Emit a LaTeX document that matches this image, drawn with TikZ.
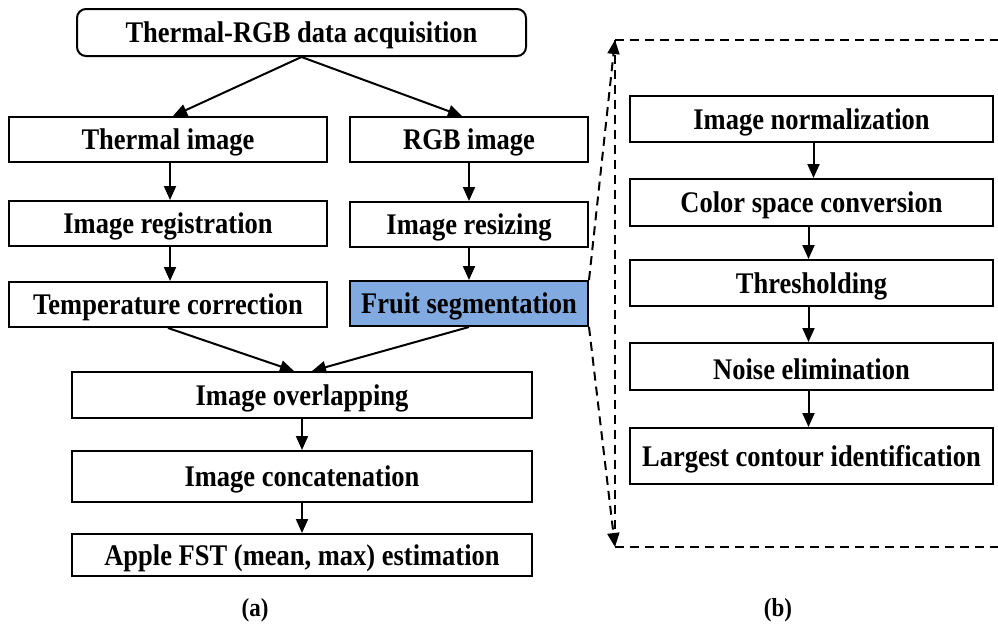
\documentclass[tikz,border=0pt]{standalone}
\usepackage{fontspec}
\usepackage{graphicx}
\setmainfont{Liberation Serif}
\usetikzlibrary{arrows.meta}
\definecolor{segblue}{RGB}{128,170,224}
\newcommand{\vstr}[1]{\raisebox{-3pt}[\height][\depth]{\scalebox{1}[1.13]{#1}}}
\begin{document}
\begin{tikzpicture}[x=1pt,y=-1pt,
  box/.style={draw,line width=2pt,inner sep=0pt,font=\fontsize{26.5}{30}\selectfont\bfseries},
  lab/.style={inner sep=0pt,font=\fontsize{23}{26}\selectfont\bfseries},
  arr/.style={line width=2pt,-{Triangle[length=14pt,width=12pt]}},
  darr/.style={line width=2pt,dash pattern=on 9pt off 6pt,-{Triangle[length=14pt,width=12pt]}},
  dline/.style={line width=2pt,dash pattern=on 9pt off 6pt}]
\useasboundingbox (0,0) rectangle (998,624);
\fill[white] (0,0) rectangle (998,624);
% left part
\node[box,rounded corners=9pt,minimum width=449pt,minimum height=47pt] (top) at (301.5,32.5) {\vstr{Thermal-RGB data acquisition}};
\node[box,minimum width=318pt,minimum height=45pt] (therm) at (168,139.5) {\vstr{Thermal image}};
\node[box,minimum width=318pt,minimum height=45pt] (reg) at (168,223.5) {\vstr{Image registration}};
\node[box,minimum width=318pt,minimum height=45pt] (temp) at (168,304.5) {\vstr{Temperature correction}};
\node[box,minimum width=238pt,minimum height=45pt] (rgb) at (469,139.5) {\vstr{RGB image}};
\node[box,minimum width=238pt,minimum height=45pt] (resz) at (469,224.5) {\vstr{Image resizing}};
\node[box,fill=segblue,minimum width=238pt,minimum height=45pt] (fruit) at (469,303.5) {\vstr{Fruit segmentation}};
\node[box,minimum width=460pt,minimum height=46pt] (over) at (302,395) {\vstr{Image overlapping}};
\node[box,minimum width=460pt,minimum height=51pt] (conc) at (302,476.5) {\vstr{Image concatenation}};
\node[box,minimum width=460pt,minimum height=42pt] (apple) at (302,555) {\vstr{Apple FST (mean, max) estimation}};
% right part
\node[box,minimum width=363pt,minimum height=46pt] (norm) at (811.5,119) {\vstr{Image normalization}};
\node[box,minimum width=363pt,minimum height=47pt] (color) at (811.5,202.5) {\vstr{Color space conversion}};
\node[box,minimum width=363pt,minimum height=46pt] (thr) at (811.5,283) {\vstr{Thresholding}};
\node[box,minimum width=363pt,minimum height=47pt] (noise) at (811.5,366.5) {\vstr{Noise elimination}};
\node[box,minimum width=363pt,minimum height=56pt] (large) at (811.5,456) {\vstr{Largest contour identification}};
% labels
\node[lab] (la) at (255,607) {\vstr{(a)}};
\node[lab] (lb) at (778,607) {\vstr{(b)}};
% arrows left
\draw[arr] (top.south) -- ([xshift=5pt]therm.north);
\draw[arr] (top.south) -- ([xshift=-7pt]rgb.north);
\draw[arr] ([xshift=2pt]therm.south) -- ([xshift=2pt]reg.north);
\draw[arr] ([xshift=2pt]reg.south) -- ([xshift=2pt]temp.north);
\draw[arr] (rgb.south) -- (resz.north);
\draw[arr] (resz.south) -- (fruit.north);
\draw[arr] (temp.south) -- ([xshift=-8pt]over.north);
\draw[arr] (fruit.south) -- ([xshift=10pt]over.north);
\draw[arr] (over.south) -- (conc.north);
\draw[arr] (conc.south) -- (apple.north);
% arrows right
\draw[arr] ([xshift=2pt]norm.south) -- ([xshift=2pt]color.north);
\draw[arr] ([xshift=-3pt]color.south) -- ([xshift=-3pt]thr.north);
\draw[arr] ([xshift=-3pt]thr.south) -- ([xshift=-3pt]noise.north);
\draw[arr] ([xshift=-3pt]noise.south) -- ([xshift=-3pt]large.north);
% dashed frame
\coordinate (tl) at (615,40);
\coordinate (bl) at (615,547);
\coordinate (tr) at (998,40);
\coordinate (br) at (998,547);
\draw[dline] (tl) -- (bl);
\draw[dline] (tl) -- (tr);
\draw[dline] (bl) -- (br);
\draw[darr] (fruit.north east) -- (tl);
\draw[darr] (fruit.south east) -- (bl);
\end{tikzpicture}
\end{document}
